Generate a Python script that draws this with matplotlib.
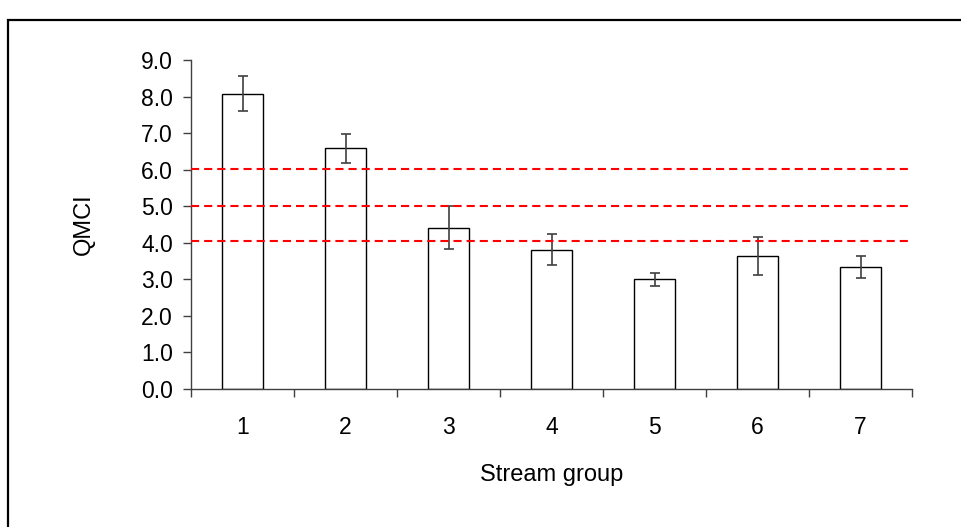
import matplotlib
matplotlib.use("Agg")
import matplotlib.pyplot as plt
from matplotlib.patches import Rectangle
from matplotlib.ticker import FixedLocator, NullFormatter, FixedFormatter

groups = ["1", "2", "3", "4", "5", "6", "7"]
qmci = [8.08, 6.58, 4.41, 3.81, 3.00, 3.63, 3.35]
err = [0.48, 0.40, 0.59, 0.42, 0.18, 0.52, 0.30]
thresholds = [6.02, 5.00, 4.05]
yticks = [0, 1, 2, 3, 4, 5, 6, 7, 8, 9]

plt.rcParams['font.family'] = ['Liberation Sans', 'DejaVu Sans']
FS = 16.5
LFS = 17

W, H = 961, 527
fig = plt.figure(figsize=(W / 100, H / 100), dpi=100)
ax = fig.add_axes([191 / W, 1 - 389 / H, (912 - 191) / W, (389 - 60) / H])

# outer frame
fig.patches.append(Rectangle((8 / W, -0.1), 1.2, (H - 20) / H + 0.1,
                             transform=fig.transFigure, fill=False,
                             edgecolor='black', linewidth=1.6))

x = list(range(1, len(groups) + 1))
ax.bar(x, qmci, width=0.4, color='white', edgecolor='black', linewidth=1.0, zorder=2)
ax.errorbar(x, qmci, yerr=err, fmt='none', ecolor='#404040', elinewidth=1.2,
            capsize=3.5, capthick=1.2, zorder=3)
for t in thresholds:
    ax.axhline(t, color='#ff0000', linestyle=(0, (3.9, 2.4)), linewidth=1.5, zorder=4)

ax.set_xlim(0.5, len(groups) + 0.5)
ax.set_ylim(0, 9)
ax.set_yticks(yticks)
ax.set_yticklabels([f"{v:.1f}" for v in yticks], fontsize=FS)
ax.xaxis.set_major_locator(FixedLocator([i + 0.5 for i in range(len(groups) + 1)]))
ax.xaxis.set_major_formatter(NullFormatter())
ax.xaxis.set_minor_locator(FixedLocator(x))
ax.xaxis.set_minor_formatter(FixedFormatter(groups))
ax.tick_params(axis='x', which='major', direction='out', length=5.5, width=1, color='#404040')
ax.tick_params(axis='x', which='minor', length=0, labelsize=FS, pad=19.5)
ax.tick_params(axis='y', direction='out', length=5.5, width=1, color='#404040', pad=7.5)

for s in ['top', 'right']:
    ax.spines[s].set_visible(False)
for s in ['left', 'bottom']:
    ax.spines[s].set_color('#404040')
    ax.spines[s].set_linewidth(1.0)

ax.set_ylabel("QMCI", fontsize=LFS, va='center')
ax.yaxis.set_label_coords(-0.148, 0.5)
ax.set_xlabel("Stream group", fontsize=LFS, va='top')
ax.xaxis.set_label_coords(0.5, -0.228)

fig.savefig("out.png", dpi=100, facecolor='white')
